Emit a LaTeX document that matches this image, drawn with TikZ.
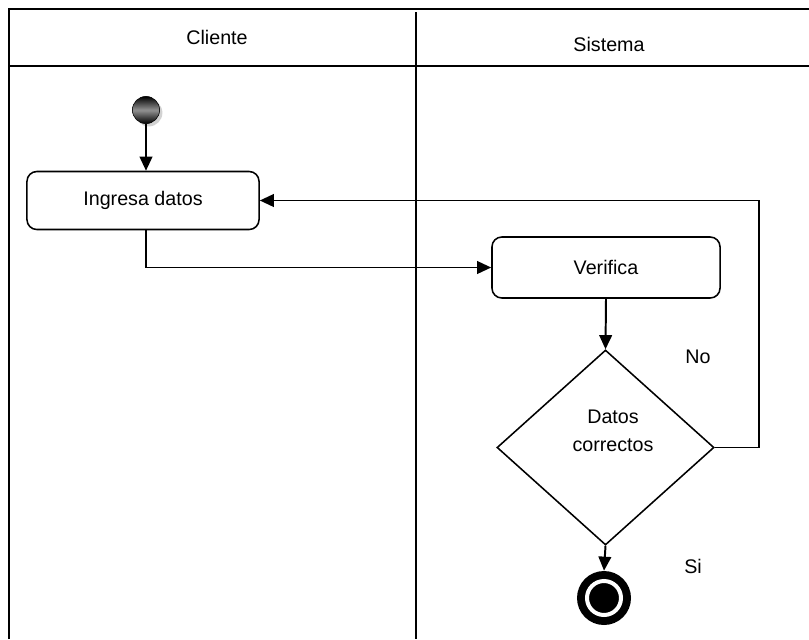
\documentclass[tikz,border=0pt]{standalone}
\usepackage{fontspec}
\setmainfont{Liberation Sans}
\usetikzlibrary{arrows.meta,shapes.geometric,shadows}

\begin{document}
\begin{tikzpicture}[x=0.025cm,y=-0.025cm,font=\fontsize{14}{20}\selectfont,lane/.style={line width=1.1pt},activity/.style={draw, line width=1.1pt, rounded corners=7pt, minimum width=5.8cm, minimum height=1.45cm},flow/.style={line width=1.4pt, -{Triangle[length=10pt,width=9pt]}},decision/.style={diamond, draw, line width=1.1pt, minimum width=5.425cm, minimum height=4.875cm, inner sep=0pt},startnode/.style={circle, draw, inner sep=0pt, minimum size=0.68cm, top color=black, bottom color=black, middle color=gray!85, drop shadow={shadow xshift=2pt, shadow yshift=-2pt, fill=gray!70}},endnode/.style={circle, fill=black, inner sep=0pt, minimum size=1.35cm}]
\useasboundingbox (0,0) rectangle (809,639);
\draw[lane] (9,639) -- (9,9) -- (809,9); \draw[lane] (9,66) -- (809,66); \draw[lane] (416,12) -- (416,639);
\node (cliente) at (217,37) {Cliente}; \node (sistema) at (609,44) {Sistema};
\node[startnode] (inicio) at (146,110) {};
\node[activity] (ingresa) at (143,200.5) {Ingresa datos};
\node[activity, minimum width=5.7cm, minimum height=1.525cm] (verifica) at (606,267.5) {Verifica};
\node[decision] (datos) at (605.5,447.5) {}; \node[align=center] (datostexto) at (613,431) {Datos\\correctos};
\node[endnode] (fin) at (604,598) {}; \draw[white, line width=0.1cm] (fin.center) circle (17);
\node (no) at (698,357) {No}; \node (si) at (693,566) {Si};
\draw[flow] (inicio) -- (inicio |- ingresa.north);
\draw[flow] (ingresa.south -| inicio) |- (verifica.west);
\draw[flow] (verifica.south) -- (datos.north);
\draw[flow] (datos.east) -- ++(44,0) |- (ingresa.east);
\draw[flow] (datos.south) -- (fin.north);
\end{tikzpicture}
\end{document}
